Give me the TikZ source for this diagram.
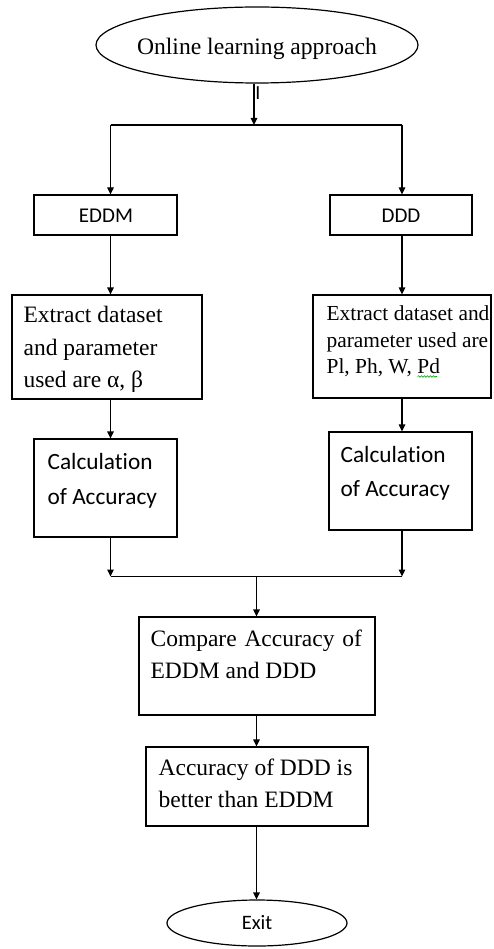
\documentclass[tikz,border=0pt]{standalone}
\usepackage{fontspec}
\setmainfont{Liberation Serif}
\newfontfamily\calfont[Ligatures={NoCommon}]{Carlito}
\usetikzlibrary{arrows.meta,shapes.geometric,decorations.pathmorphing}
\begin{document}
\begin{tikzpicture}[x=1pt,y=-1pt,
  line width=1.2pt,
  box/.style={draw,rectangle,inner sep=0pt},
  txt/.style={anchor=north west,inner sep=0pt,align=left},
  arr/.style={-{Triangle[length=7pt,width=6.5pt]}},
  oval/.style={draw,ellipse,inner sep=0pt}]
\useasboundingbox (0,0) rectangle (493,949);

% shapes
\node[oval,minimum width=322pt,minimum height=76pt] (online) at (257,45) {};
\node[font=\fontsize{23.6}{28}\selectfont,anchor=base] at (257,55) {Online learning approach};
\node[inner sep=0pt,anchor=base,font=\calfont\fontsize{20}{24}\selectfont] (mark) at (258,100) {I};

\node[box,minimum width=143pt,minimum height=40pt] (eddm) at (105.5,215) {};
\node[anchor=base,font=\calfont\fontsize{21}{24}\selectfont] at (106,223) {EDDM};
\node[box,minimum width=142pt,minimum height=40pt] (ddd) at (401,215) {};
\node[anchor=base,font=\calfont\fontsize{21}{24}\selectfont] at (401,223) {DDD};

\node[box,minimum width=190pt,minimum height=104pt] (exl) at (107,347) {};
\node[txt,font=\fontsize{23.5}{32.5}\selectfont] at (23,306) {Extract dataset\\and parameter\\used are α, β};
\node[box,minimum width=178pt,minimum height=103pt] (exr) at (402,346.5) {};
\node[txt,font=\fontsize{21.4}{26.5}\selectfont] (exrt) at (326,305.5) {Extract dataset and\\parameter used are\\Pl, Ph, W, Pd};
\draw[green!60!black,line width=0.6pt,decorate,decoration={snake,amplitude=0.8pt,segment length=3pt}] (417.5,376.5) -- (437,376.5);

\node[box,minimum width=143pt,minimum height=98pt] (cal) at (105.5,488) {};
\node[txt,font=\calfont\fontsize{23.3}{35}\selectfont] at (47,452.5) {Calculation\\of Accuracy};
\node[box,minimum width=143pt,minimum height=98pt] (car) at (400.5,481) {};
\node[txt,font=\calfont\fontsize{23.3}{34}\selectfont] at (340,445.5) {Calculation\\of Accuracy};

\node[box,minimum width=236pt,minimum height=98pt] (cmp) at (257,666) {};
\node[txt,font=\fontsize{23.5}{32}\selectfont] at (150,629.5) {Compare\hspace{0.33em}Accuracy\hspace{0.33em}of\\EDDM and DDD};
\node[box,minimum width=222pt,minimum height=79pt] (acc) at (257,786.5) {};
\node[txt,font=\fontsize{23.5}{32}\selectfont] at (158,758.5) {Accuracy of DDD is\\better than EDDM};

\node[oval,minimum width=180pt,minimum height=46pt] (exit) at (257,923) {};
\node[anchor=base,font=\calfont\fontsize{20.5}{24}\selectfont] at (257,929) {Exit};

% connectors
\coordinate (split) at (254,125);
\coordinate (sl) at (110.5,125);
\coordinate (sr) at (402,125);
\draw[arr] (online.south -| split) -- (split);
\draw (sl) -- (sr);
\draw[arr] (sl) -- (sl |- eddm.north);
\draw[arr] (sr) -- (sr |- ddd.north);
\draw[arr] (sl |- eddm.south) -- (sl |- exl.north);
\draw[arr] (sr |- ddd.south) -- (sr |- exr.north);
\draw[arr] (sl |- exl.south) -- (sl |- cal.north);
\draw[arr] (sr |- exr.south) -- (sr |- car.north);

\coordinate (ml) at (110.5,576.5);
\coordinate (mr) at (402,576.5);
\coordinate (mm) at (256.5,576.5);
\draw[arr] (sl |- cal.south) -- (ml);
\draw[arr] (sr |- car.south) -- (mr);
\draw (ml) -- (mr);
\draw[arr] (mm) -- (mm |- cmp.north);
\draw[arr] (mm |- cmp.south) -- (mm |- acc.north);
\draw[arr] (mm |- acc.south) -- (mm |- exit.north);
\end{tikzpicture}
\end{document}
